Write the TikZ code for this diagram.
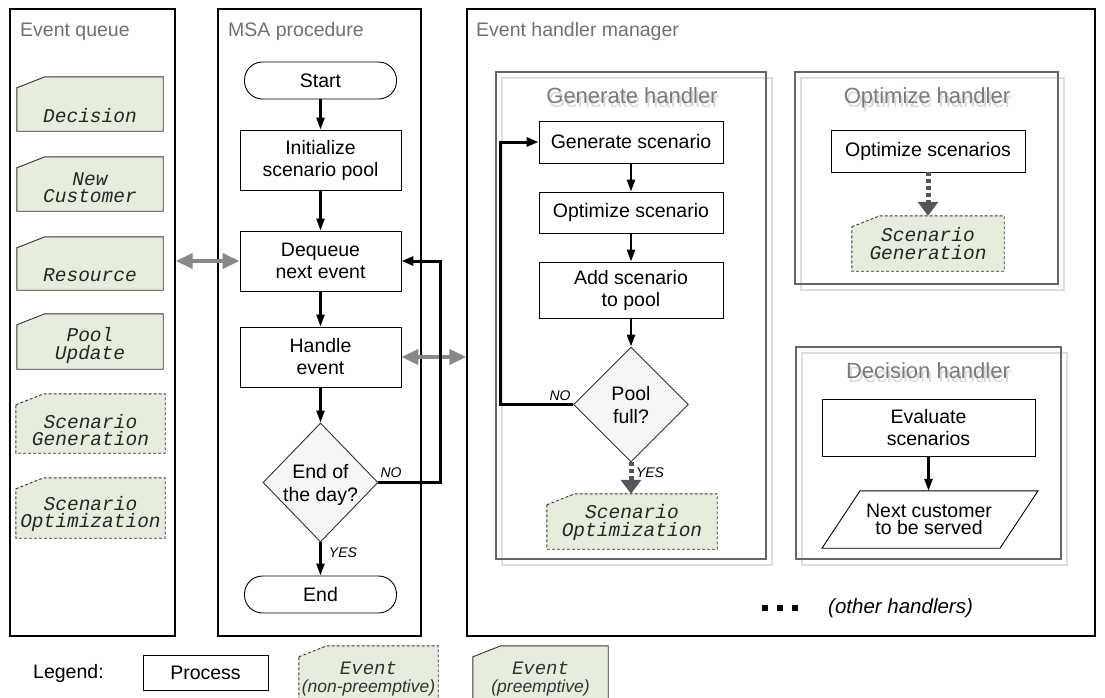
\documentclass[tikz,border=0pt]{standalone}
\usepackage{fontspec}
\setmainfont{Liberation Sans}
\setmonofont{Liberation Mono}
\usetikzlibrary{arrows.meta,shapes.geometric}
\definecolor{cardgreen}{HTML}{E7EDDC}
\definecolor{arrgray}{HTML}{888888}
\definecolor{titlegray}{HTML}{707070}
\definecolor{hgray}{HTML}{7A7A7A}
\definecolor{dkgray}{HTML}{555555}
\newcommand\mf{\fontsize{19.5}{22}\selectfont}
\newcommand\cardpath[2]{\path[#2] ([yshift=-11pt]#1.north west) -- ([xshift=28pt]#1.north west) -- (#1.north east) -- (#1.south east) -- (#1.south west) -- cycle;}
\begin{document}
\begin{tikzpicture}[x=1pt,y=-1pt,
  every node/.style={inner sep=0pt},
  outer/.style={draw, line width=1.4pt},
  otitle/.style={anchor=base west, text=titlegray, font=\mf},
  proc/.style={draw, line width=0.9pt, minimum width=161pt, minimum height=60pt, align=center, font=\mf},
  term/.style={draw, line width=0.9pt, rounded corners=18pt, minimum width=152pt, minimum height=37pt, font=\mf},
  dec/.style={diamond, draw=black!80, fill=black!4, line width=0.9pt, minimum width=115pt, minimum height=119pt},
  dectxt/.style={align=center, font=\fontsize{19.5}{23}\selectfont},
  flow/.style={line width=2.4pt, -{Triangle[length=12pt,width=8pt]}},
  noline/.style={line width=3pt, -{Triangle[length=12pt,width=9pt]}},
  garrow/.style={color=arrgray, line width=4pt, {Triangle[length=17pt,width=15pt]}-{Triangle[length=17pt,width=15pt]}},
  dashflow/.style={color=dkgray, line width=5pt, dash pattern=on 4pt off 3pt, -{Triangle[length=14pt,width=20pt]}},
  hbox/.style={draw=black!60, line width=1.3pt},
  hshadow/.style={draw=black!13, line width=1.3pt},
  htitle/.style={anchor=base, text=hgray, font=\fontsize{22}{24}\selectfont},
  hghost/.style={anchor=base, text=black!15, font=\fontsize{22}{24}\selectfont},
  cardbox/.style={},
  cardtxt/.style={font=\fontsize{19.5}{17.5}\selectfont\ttfamily\itshape, text=black!85, align=center},
  solidcard/.style={draw=black!80, line width=0.9pt, fill=cardgreen},
  dashcard/.style={draw=black!80, line width=0.9pt, dash pattern=on 3pt off 2pt, fill=cardgreen},
  yn/.style={font=\fontsize{14}{16}\selectfont\itshape}
]
\useasboundingbox (0,0) rectangle (1105,697);

% ---------- outer boxes ----------
\node[outer, minimum width=165pt, minimum height=627pt] (eq) at (92.5,322.5) {};
\node[outer, minimum width=203pt, minimum height=627pt] (msa) at (319.5,322.5) {};
\node[outer, minimum width=628pt, minimum height=627pt] (ehm) at (781,322.5) {};
\node[otitle] (eqt) at (20,36) {Event queue};
\node[otitle] (msat) at (228,36) {MSA procedure};
\node[otitle] (ehmt) at (476,36) {Event handler manager};

% ---------- event queue cards ----------
\node[cardbox, minimum width=146pt, minimum height=54pt] (qdec) at (90,104) {};
\cardpath{qdec}{solidcard}
\node[cardtxt] (qdect) at (90,116) {Decision};

\node[cardbox, minimum width=146pt, minimum height=54pt] (qnew) at (90,184) {};
\cardpath{qnew}{solidcard}
\node[cardtxt] (qnewt) at (90,187.5) {New\\Customer};

\node[cardbox, minimum width=146pt, minimum height=53pt] (qres) at (90,263.5) {};
\cardpath{qres}{solidcard}
\node[cardtxt] (qrest) at (90,275) {Resource};

\node[cardbox, minimum width=146pt, minimum height=55pt] (qpool) at (90,341.5) {};
\cardpath{qpool}{solidcard}
\node[cardtxt] (qpoolt) at (90,345.5) {Pool\\Update};

\node[cardbox, minimum width=149pt, minimum height=59pt] (qsg) at (90.5,423.5) {};
\cardpath{qsg}{dashcard}
\node[cardtxt] (qsgt) at (90.5,430) {Scenario\\Generation};

\node[cardbox, minimum width=149pt, minimum height=60pt] (qso) at (90.5,508) {};
\cardpath{qso}{dashcard}
\node[cardtxt] (qsot) at (90.5,514) {Scenario\\Optimization};

% ---------- MSA procedure ----------
\node[term] (start) at (320.5,80.5) {Start};
\node[proc] (init) at (320.5,160) {Initialize\\scenario pool};
\node[proc] (deq) at (320.5,261) {Dequeue\\next event};
\node[proc] (hand) at (320.5,357) {Handle\\event};
\node[dec] (eod) at (320.5,482.5) {};
\node[dectxt] (eodt) at (320.5,484.5) {End of\\the day?};
\node[term] (endn) at (320.5,594.5) {End};

\draw[flow] (start) -- (init);
\draw[flow] (init) -- (deq);
\draw[flow] (deq) -- (hand);
\draw[flow] (hand) -- (eod);
\draw[flow] (eod) -- (endn);

\draw[garrow] (eq.east |- deq.west) -- (deq.west);
\draw[garrow] (hand.east) -- (hand.east -| ehm.west);

\coordinate (msano) at (440,0);
\draw[noline] (eod.east) -- (eod.east -| msano) -- (deq.east -| msano) -- (deq.east);
\node[yn] (eodno) at (391,473) {NO};
\node[yn] (eodyes) at (343,553) {YES};

% ---------- Generate handler ----------
\draw[hshadow] ([xshift=6pt,yshift=-6pt]631-135,72) rectangle ([xshift=6pt,yshift=-6pt]766,559);
\node[hbox, minimum width=270pt, minimum height=487pt] (ghb) at (631,315.5) {};
\node[hghost] (ghtg) at (634,107) {Generate handler};
\node[htitle] (ght) at (632,103) {Generate handler};

\node[proc, minimum width=184pt, minimum height=42pt] (gen) at (631,142) {Generate scenario};
\node[proc, minimum width=184pt, minimum height=41pt] (optz) at (631,212.5) {Optimize scenario};
\node[proc, minimum width=184pt, minimum height=56pt] (add) at (631,290) {Add scenario\\to pool};
\node[dec, minimum width=115pt, minimum height=115pt] (pool) at (631,404.5) {};
\node[dectxt] (poolt) at (631,405) {Pool\\full?};

\node[cardbox, minimum width=170pt, minimum height=55pt] (sopt2) at (632,521.5) {};
\cardpath{sopt2}{dashcard}
\node[cardtxt] (sopt2t) at (632,522.5) {Scenario\\Optimization};

\draw[flow] (gen) -- (optz);
\draw[flow] (optz) -- (add);
\draw[flow] (add) -- (pool);
\draw[dashflow] (pool.south) -- (pool.south |- sopt2.north);
\coordinate (genno) at (500,0);
\draw[noline] (pool.west) -- (pool.west -| genno) -- (gen.west -| genno) -- (gen.west);
\node[yn] (poolno) at (560,396) {NO};
\node[yn] (poolyes) at (650,473) {YES};

% ---------- Optimize handler ----------
\draw[hshadow] ([xshift=6pt,yshift=-6pt]795,72) rectangle ([xshift=6pt,yshift=-6pt]1058,284);
\node[hbox, minimum width=263pt, minimum height=212pt] (ohb) at (926.5,178) {};
\node[hghost] (ohtg) at (929,107) {Optimize handler};
\node[htitle] (oht) at (927,103) {Optimize handler};
\node[proc, minimum width=194pt, minimum height=42pt] (oscs) at (928,151) {Optimize scenarios};
\node[cardbox, minimum width=152pt, minimum height=55pt] (sgen2) at (928,243.5) {};
\cardpath{sgen2}{dashcard}
\node[cardtxt] (sgen2t) at (928,243.5) {Scenario\\Generation};
\draw[dashflow] (oscs.south) -- (oscs.south |- sgen2.north);

% ---------- Decision handler ----------
\draw[hshadow] ([xshift=6pt,yshift=-6pt]796,347) rectangle ([xshift=6pt,yshift=-6pt]1061,559);
\node[hbox, minimum width=265pt, minimum height=212pt] (dhb) at (928.5,453) {};
\node[hghost] (dhtg) at (930,382) {Decision handler};
\node[htitle] (dht) at (928,378) {Decision handler};
\node[proc, minimum width=213pt, minimum height=57pt] (evals) at (928.5,427.5) {Evaluate\\scenarios};
\node[minimum width=142pt, minimum height=57pt, align=center, font=\fontsize{19.5}{17.5}\selectfont] (next) at (929,519.5) {Next customer\\to be served};
\draw[line width=0.9pt] ([xshift=-69pt]next.north) -- ([xshift=109pt]next.north) -- ([xshift=71pt]next.south) -- ([xshift=-107pt]next.south) -- cycle;
\draw[flow] (evals.south) -- (evals.south |- next.north);

% ---------- other handlers ----------
\fill (762,605) rectangle (768,611);
\fill (777,605) rectangle (783,611);
\fill (792,605) rectangle (798,611);
\node[anchor=west, font=\fontsize{20.5}{22}\selectfont\itshape] (oth) at (828,608) {(other handlers)};

% ---------- legend ----------
\node[anchor=west, font=\mf] (leg) at (33,673) {Legend:};
\node[proc, minimum width=125pt, minimum height=35pt] (legp) at (205.5,672.5) {Process};
\node[cardbox, minimum width=139pt, minimum height=59pt] (legnp) at (368.5,675.5) {};
\cardpath{legnp}{dashcard}
\node[align=center, text=black!80, font=\fontsize{17.5}{18}\selectfont] (legnpt) at (368.5,679) {{\fontsize{19}{18}\selectfont\ttfamily\itshape Event}\\{\itshape (non-preemptive)}};
\node[cardbox, minimum width=135pt, minimum height=59pt] (legpr) at (540.5,675.5) {};
\cardpath{legpr}{solidcard}
\node[align=center, text=black!80, font=\fontsize{17.5}{18}\selectfont] (legprt) at (540.5,679) {{\fontsize{19}{18}\selectfont\ttfamily\itshape Event}\\{\itshape (preemptive)}};
\end{tikzpicture}
\end{document}
